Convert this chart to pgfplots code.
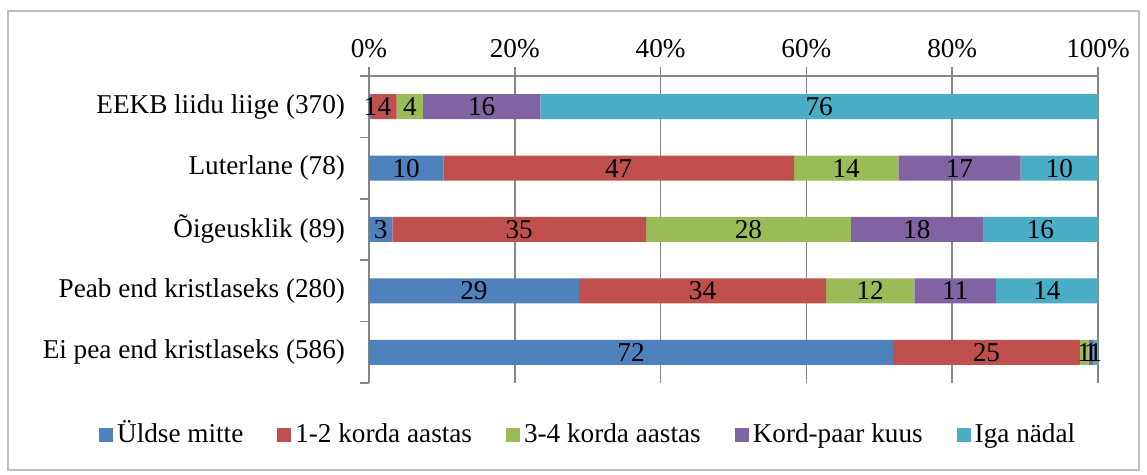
\documentclass[border=0pt]{standalone}
\usepackage{pgfplots}
\pgfplotsset{compat=1.18}
\usepackage{fontspec}
\setmainfont{Liberation Serif}
\definecolor{cBlue}{HTML}{4F81BD}
\definecolor{cRed}{HTML}{C0504D}
\definecolor{cGreen}{HTML}{9BBB59}
\definecolor{cPurple}{HTML}{8064A2}
\definecolor{cCyan}{HTML}{4BACC6}
\definecolor{cAxis}{HTML}{868686}
\definecolor{cBorder}{HTML}{BFBFBF}
\newcommand{\chfont}{\fontsize{13.6}{16}\selectfont}
\begin{document}
\begin{tikzpicture}
\path[use as bounding box] (0,0) rectangle (573.5pt,237.5pt);
\draw[cBorder, line width=0.6pt] (4pt,2.5pt) rectangle (569.5pt,232pt);
\begin{axis}[
  at={(184.5pt,46pt)}, anchor=south west,
  scale only axis, width=364.5pt, height=153.5pt,
  xbar stacked, bar width=12.5pt,
  xmin=0, xmax=100, ymin=-0.5, ymax=4.5, y dir=reverse,
  axis x line*=top, axis y line*=left,
  axis line style={cAxis, line width=0.75pt},
  xtick={0,20,...,100},
  xticklabel={\pgfmathprintnumber{\tick}\%},
  /pgf/number format/assume math mode=true,
  tick align=outside,
  major tick length=4.5pt,
  x tick style={cAxis, line width=0.75pt},
  xmajorgrids, grid style={cAxis, line width=0.75pt},
  ytick={0,1,2,3,4},
  yticklabels={EEKB liidu liige (370), Luterlane (78), Õigeusklik (89), Peab end kristlaseks (280), Ei pea end kristlaseks (586)},
  y tick style={draw=none},
  extra y ticks={-0.5,0.5,1.5,2.5,3.5,4.5},
  extra y tick labels={},
  extra y tick style={y tick style={draw=cAxis, line width=0.75pt}},
  tick label style={font=\chfont, text=black},
  yticklabel style={xshift=-4pt},
  xticklabel style={yshift=1pt},
  legend columns=5,
  legend style={draw=none, at={(0.302,-0.176)}, anchor=center,
    font=\chfont,
    nodes={text height=0.72em, text depth=0.22em},
    /tikz/every even column/.append style={column sep=15pt}},
  legend image code/.code={\fill[#1] (0pt,-2.5pt) rectangle (7pt,4.5pt);},
]
\addplot[fill=cBlue, draw=none] coordinates {(0.4,0) (10.2,1) (3.2,2) (28.8,3) (71.9,4)};
\addplot[fill=cRed, draw=none] coordinates {(3.4,0) (48.1,1) (34.8,2) (33.9,3) (25.6,4)};
\addplot[fill=cGreen, draw=none] coordinates {(3.6,0) (14.3,1) (28.1,2) (12.1,3) (1.2,4)};
\addplot[fill=cPurple, draw=none] coordinates {(16.1,0) (16.8,1) (18.1,2) (11.2,3) (0.6,4)};
\addplot[fill=cCyan, draw=none] coordinates {(76.5,0) (10.6,1) (15.8,2) (14.0,3) (0.7,4)};
\legend{Üldse mitte, 1-2 korda aastas, 3-4 korda aastas, Kord-paar kuus, Iga nädal}
\end{axis}
\begin{axis}[
  at={(184.5pt,46pt)}, anchor=south west,
  scale only axis, width=364.5pt, height=153.5pt,
  xmin=0, xmax=100, ymin=-0.5, ymax=4.5, y dir=reverse,
  hide axis, clip=false,
]
\addplot[draw=none, mark=none, nodes near coords, point meta=explicit symbolic,
  every node near coord/.style={anchor=center, font=\chfont, text=black, inner sep=0pt}]
  coordinates {
  (0.2,0) [1] (2.1,0) [4] (5.6,0) [4] (15.45,0) [16] (61.75,0) [76]
  (5.1,1) [10] (34.25,1) [47] (65.45,1) [14] (81.0,1) [17] (94.7,1) [10]
  (1.6,2) [3] (20.6,2) [35] (52.05,2) [28] (75.15,2) [18] (92.1,2) [16]
  (14.4,3) [29] (45.75,3) [34] (68.75,3) [12] (80.4,3) [11] (93.0,3) [14]
  (35.95,4) [72] (84.7,4) [25] (98.1,4) [1] (99.0,4) [1] (99.65,4) [1]
  };
\end{axis}
\end{tikzpicture}
\end{document}
